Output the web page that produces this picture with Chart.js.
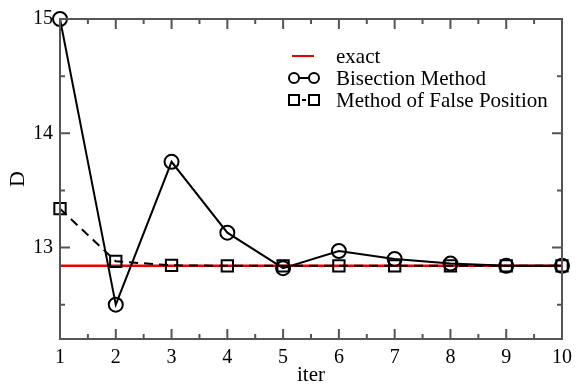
<!DOCTYPE html>
<html>
<head>
<meta charset="utf-8">
<script src="https://cdn.jsdelivr.net/npm/chart.js@4"></script>
<style>
  html,body{margin:0;padding:0;background:#fff}
  #wrap{width:579px;height:388px;position:relative}
</style>
</head>
<body>
<div id="wrap"><canvas id="chart" width="579" height="388"></canvas></div>
<script>
// values
const iters = [1, 2, 3, 4, 5, 6, 7, 8, 9, 10];
const bisection = [15.0, 12.5, 13.75, 13.13, 12.82, 12.97, 12.90, 12.86, 12.84, 12.84];
const falsePos = [13.34, 12.88, 12.845, 12.84, 12.84, 12.84, 12.84, 12.84, 12.84, 12.84];
const exactX = [1, 10];
const exactY = [12.84, 12.84];
const xTicks = [1, 2, 3, 4, 5, 6, 7, 8, 9, 10];
const yTicks = [13, 14, 15];
const legendLabels = ['exact', 'Bisection Method', 'Method of False Position'];

const SERIF = '"Liberation Serif", "DejaVu Serif", serif';
const AXIS_COL = '#555';

function pts(xs, ys){ return xs.map((x,i)=>({x, y:ys[i]})) }

// frame + inward ticks (major and minor) on all four sides
const framePlugin = {
  id:'frame',
  afterDraw(chart){
    const {ctx, chartArea:a, scales:{x, y}} = chart;
    ctx.save();
    ctx.strokeStyle = AXIS_COL; ctx.lineWidth = 2;
    ctx.strokeRect(a.left, a.top, a.right-a.left, a.bottom-a.top);
    ctx.beginPath();
    for(let v=1; v<=10.001; v+=0.5){
      const px = x.getPixelForValue(v);
      const len = Number.isInteger(v) ? 10 : 5;
      ctx.moveTo(px, a.bottom); ctx.lineTo(px, a.bottom-len);
      ctx.moveTo(px, a.top); ctx.lineTo(px, a.top+len);
    }
    for(let v=12.5; v<=15.001; v+=0.5){
      const py = y.getPixelForValue(v);
      const len = Number.isInteger(v) ? 10 : 5;
      ctx.moveTo(a.left, py); ctx.lineTo(a.left+len, py);
      ctx.moveTo(a.right, py); ctx.lineTo(a.right-len, py);
    }
    ctx.stroke();
    ctx.restore();
  }
};

// legend drawn in the same style as the original (marker-line-marker)
const legendPlugin = {
  id:'xmgrLegend',
  afterDraw(chart){
    const ctx = chart.ctx;
    const x0 = 294, x1 = 314, tx = 336;
    const rows = [56, 78, 100];
    ctx.save();
    ctx.font = '21px ' + SERIF;
    ctx.fillStyle = '#000'; ctx.textBaseline = 'middle';
    // exact
    ctx.strokeStyle = '#e00'; ctx.lineWidth = 2;
    ctx.beginPath(); ctx.moveTo(x0-2, rows[0]); ctx.lineTo(x1, rows[0]); ctx.stroke();
    // bisection
    ctx.strokeStyle = '#000';
    ctx.beginPath(); ctx.moveTo(x0, rows[1]); ctx.lineTo(x1, rows[1]); ctx.stroke();
    [x0, x1].forEach(cx=>{ ctx.beginPath(); ctx.arc(cx, rows[1], 5, 0, Math.PI*2); ctx.fillStyle='#fff'; ctx.fill(); ctx.stroke(); });
    // false position
    ctx.setLineDash([4,4]);
    ctx.beginPath(); ctx.moveTo(x0, rows[2]); ctx.lineTo(x1, rows[2]); ctx.stroke();
    ctx.setLineDash([]);
    [x0, x1].forEach(cx=>{ ctx.fillStyle='#fff'; ctx.fillRect(cx-5, rows[2]-5, 10, 10); ctx.strokeRect(cx-5, rows[2]-5, 10, 10); });
    ctx.fillStyle = '#000';
    legendLabels.forEach((t,i)=>ctx.fillText(t, tx, rows[i]+1));
    ctx.restore();
  }
};

new Chart(document.getElementById('chart'), {
  type:'line',
  data:{
    datasets:[
      {label:legendLabels[0], data:pts(exactX, exactY), borderColor:'#e00', borderWidth:2.5, pointRadius:0, order:3},
      {label:legendLabels[1], data:pts(iters, bisection), borderColor:'#000', borderWidth:2,
        pointStyle:'circle', pointRadius:7, pointBorderWidth:2, pointBackgroundColor:'rgba(0,0,0,0)', pointBorderColor:'#000', order:1},
      {label:legendLabels[2], data:pts(iters, falsePos), borderColor:'#000', borderWidth:2, borderDash:[9,6],
        pointStyle:'rect', pointRadius:8, pointBorderWidth:2, pointBackgroundColor:'rgba(0,0,0,0)', pointBorderColor:'#000', order:2}
    ]
  },
  options:{
    responsive:false, animation:false, clip:false,
    layout:{padding:{top:19, right:11, left:0, bottom:0}},
    plugins:{legend:{display:false}, tooltip:{enabled:false}},
    elements:{line:{tension:0}},
    scales:{
      x:{
        type:'linear', min:1, max:10,
        grid:{display:false, drawTicks:false}, border:{display:false},
        afterBuildTicks(s){ s.ticks = xTicks.map(v=>({value:v})) },
        afterFit(s){ s.height = 49 },
        ticks:{color:'#000', font:{family:SERIF, size:20}, padding:7, maxRotation:0},
        title:{display:true, text:'iter', color:'#000', font:{family:SERIF, size:21}, padding:{top:0, bottom:0}}
      },
      y:{
        type:'linear', min:12.2, max:15,
        grid:{display:false, drawTicks:false}, border:{display:false},
        afterBuildTicks(s){ s.ticks = yTicks.map(v=>({value:v})) },
        afterFit(s){ s.width = 60 },
        ticks:{color:'#000', font:{family:SERIF, size:20}, padding:7},
        title:{display:true, text:'D', color:'#000', font:{family:SERIF, size:22}, padding:{top:5, bottom:0}}
      }
    }
  },
  plugins:[framePlugin, legendPlugin]
});
</script>
</body>
</html>
